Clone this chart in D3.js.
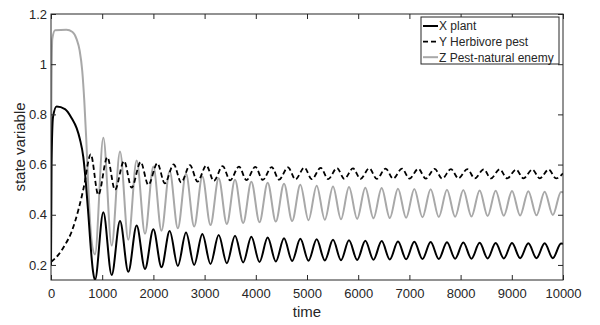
<!DOCTYPE html>
<html><head><meta charset="utf-8">
<script src="https://cdn.jsdelivr.net/npm/d3@7"></script>
<style>body{margin:0;background:#fff}svg{display:block}text{font-family:"Liberation Sans",Arial,sans-serif;fill:#262626}</style>
</head><body><svg id="c" width="600" height="325"></svg>
<script>
// ---- data ----
const xTicks = [0,1000,2000,3000,4000,5000,6000,7000,8000,9000,10000];
const yTicks = [0.2,0.4,0.6,0.8,1.0,1.2];
const seriesNames = ["X plant","Y Herbivore pest","Z Pest-natural enemy"];

// times of troughs / peaks of the sustained oscillation (X and Z in phase)
const cycleTroughT = [859,1185,1510,1836,2158,2477,2796,3115,3434,3753,4072,4391,4710,5029,5348,5664,5980,6298,6617,6936,7255,7574,7893,8212,8528,8844,9163,9482,9801];
const cyclePeakT   = [1022,1348,1673,1999,2318,2637,2956,3275,3594,3913,4232,4551,4870,5189,5508,5820,6139,6458,6777,7096,7415,7734,8053,8372,8685,9004,9323,9642,9961];

// X plant
const plantStartT = [0,10,40,110,273,404,501,566,631,680,730,780,820];
const plantStartV = [0.20,0.60,0.79,0.831,0.821,0.785,0.745,0.700,0.630,0.530,0.400,0.260,0.175];
const plantTroughs = [0.140,0.160,0.173,0.184,0.191,0.196,0.200,0.204,0.207,0.210,0.212,0.214,0.216,0.217,0.218,0.219,0.220,0.221,0.222,0.223,0.224,0.224,0.225,0.225,0.226,0.226,0.227,0.227,0.227];
const plantPeaks   = [0.410,0.375,0.357,0.342,0.335,0.329,0.323,0.319,0.316,0.312,0.309,0.306,0.304,0.302,0.300,0.298,0.296,0.295,0.293,0.292,0.291,0.290,0.289,0.288,0.287,0.287,0.286,0.286,0.285];
const plantEnd = 0.284;

// Z pest-natural enemy
const enemyStartT = [0,6,25,80,300,420,500,560,610,650,690,729,770,810];
const enemyStartV = [0.20,0.80,1.10,1.135,1.137,1.128,1.100,1.054,0.974,0.855,0.695,0.509,0.350,0.270];
const enemyTroughs = [0.242,0.277,0.300,0.324,0.336,0.346,0.353,0.359,0.363,0.367,0.370,0.373,0.375,0.378,0.380,0.382,0.384,0.386,0.387,0.388,0.390,0.391,0.392,0.393,0.395,0.396,0.397,0.398,0.399];
const enemyPeaks   = [0.707,0.652,0.616,0.592,0.574,0.563,0.552,0.545,0.539,0.532,0.528,0.524,0.520,0.516,0.513,0.511,0.508,0.507,0.504,0.503,0.502,0.500,0.499,0.497,0.496,0.495,0.494,0.492,0.491];
const enemyEnd = 0.490;

// Y herbivore pest
const pestStartT = [0,143,273,404,534,599,660,716,775];
const pestStartV = [0.212,0.240,0.280,0.333,0.419,0.472,0.530,0.600,0.641];
const pestTroughT = [924,1250,1575,1901,2223,2542,2861,3180,3499,3818,4137,4456,4775,5094,5413,5729,6045,6363,6682,7001,7320,7639,7958,8277,8593,8909,9228,9547,9866];
const pestPeakT   = [1100,1426,1751,2077,2396,2715,3034,3353,3672,3991,4310,4629,4948,5267,5586,5898,6217,6536,6855,7174,7493,7812,8131,8450,8763,9082,9401,9720];
const pestTroughs = [0.479,0.499,0.508,0.519,0.525,0.529,0.532,0.535,0.537,0.538,0.539,0.540,0.541,0.542,0.542,0.543,0.543,0.543,0.544,0.544,0.544,0.544,0.545,0.545,0.545,0.545,0.545,0.545,0.545];
const pestPeaks   = [0.629,0.614,0.610,0.605,0.601,0.598,0.596,0.594,0.592,0.591,0.590,0.589,0.588,0.587,0.586,0.585,0.585,0.584,0.584,0.583,0.583,0.582,0.582,0.581,0.581,0.580,0.580,0.580];
const pestEnd = 0.565;

// ---- build series ----
function build(st, sv, tt, tv, pt, pv, endV){
  const pts = st.map((t,i)=>[t, sv[i]]);
  tt.forEach((t,i)=>pts.push([t, tv[i]]));
  pt.forEach((t,i)=>pts.push([t, pv[i]]));
  pts.sort((a,b)=>a[0]-b[0]);
  pts.push([10000, endV]);
  return pts;
}
const plant = build(plantStartT, plantStartV, cycleTroughT, plantTroughs, cyclePeakT, plantPeaks, plantEnd);
const enemy = build(enemyStartT, enemyStartV, cycleTroughT, enemyTroughs, cyclePeakT, enemyPeaks, enemyEnd);
const pest  = build(pestStartT, pestStartV, pestTroughT, pestTroughs, pestPeakT, pestPeaks, pestEnd);

// ---- draw ----
const L=51, R=563, T=14, B=280;
const svg = d3.select("#c");
const x = d3.scaleLinear().domain([0,10000]).range([L,R]);
const y = d3.scaleLinear().domain([0.14,1.2]).range([B,T]);

svg.append("defs").append("clipPath").attr("id","clip")
  .append("rect").attr("x",L).attr("y",T).attr("width",R-L).attr("height",B-T);

const line = d3.line().x(d=>x(d[0])).y(d=>y(d[1])).curve(d3.curveMonotoneX);
const g = svg.append("g").attr("clip-path","url(#clip)");
g.append("path").datum(enemy).attr("d",line).attr("fill","none").attr("stroke","#a8a8a8").attr("stroke-width",2);
g.append("path").datum(pest).attr("d",line).attr("fill","none").attr("stroke","#000").attr("stroke-width",1.8).attr("stroke-dasharray","5,3");
g.append("path").datum(plant).attr("d",line).attr("fill","none").attr("stroke","#000").attr("stroke-width",2);

// axes (ticks inward on all four sides)
const ax = svg.append("g").attr("transform",`translate(0,${B})`)
  .call(d3.axisBottom(x).tickValues(xTicks).tickFormat(d3.format("d")).tickSize(-5).tickPadding(9));
const axTop = svg.append("g").attr("transform",`translate(0,${T})`)
  .call(d3.axisTop(x).tickValues(xTicks).tickFormat("").tickSize(-5));
const ay = svg.append("g").attr("transform",`translate(${L},0)`)
  .call(d3.axisLeft(y).tickValues(yTicks).tickFormat(d=>d3.format("~g")(d)).tickSize(-5).tickPadding(4));
const ayR = svg.append("g").attr("transform",`translate(${R},0)`)
  .call(d3.axisRight(y).tickValues(yTicks).tickFormat("").tickSize(-5));
[ax,axTop,ay,ayR].forEach(a=>{
  a.select(".domain").remove();
  a.selectAll(".tick line").attr("stroke","#262626");
  a.selectAll("text").attr("font-size",13).attr("fill","#262626").style("font-family","'Liberation Sans',Arial,sans-serif");
});
svg.append("rect").attr("x",L).attr("y",T).attr("width",R-L).attr("height",B-T)
  .attr("fill","none").attr("stroke","#262626").attr("stroke-width",1);

svg.append("text").attr("x",(L+R)/2).attr("y",317).attr("text-anchor","middle").attr("font-size",15).text("time");
svg.append("text").attr("transform",`translate(25,${(T+B)/2}) rotate(-90)`).attr("text-anchor","middle").attr("font-size",15).text("state variable");

// legend
const lg = svg.append("g");
lg.append("rect").attr("x",421).attr("y",17).attr("width",138).attr("height",47).attr("fill","#fff").attr("stroke","#262626").attr("stroke-width",1);
const legStyles = [
  {c:"#000", w:2, dash:null},
  {c:"#000", w:1.8, dash:"5,3"},
  {c:"#a8a8a8", w:2, dash:null}
];
seriesNames.forEach((n,i)=>{
  const cy = 26 + i*15.6;
  lg.append("line").attr("x1",423).attr("x2",438).attr("y1",cy).attr("y2",cy)
    .attr("stroke",legStyles[i].c).attr("stroke-width",legStyles[i].w).attr("stroke-dasharray",legStyles[i].dash);
  lg.append("text").attr("x",439).attr("y",cy+4.3).attr("font-size",12).text(n);
});
</script></body></html>
